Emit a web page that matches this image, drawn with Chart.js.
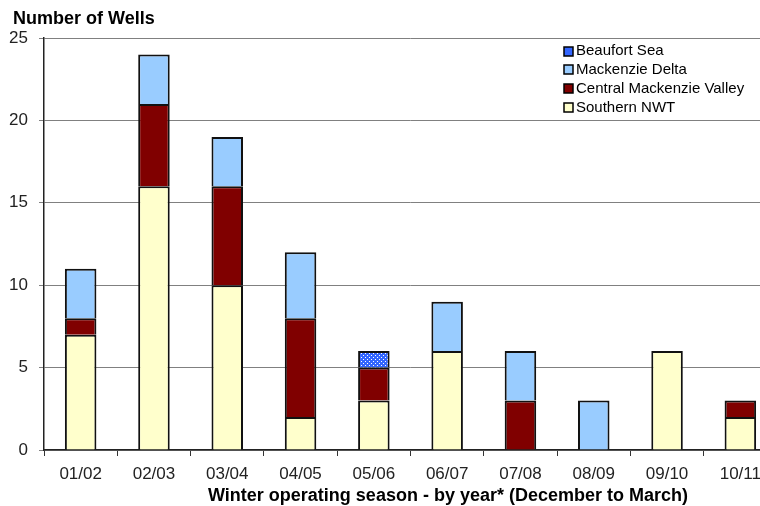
<!DOCTYPE html>
<html>
<head>
<meta charset="utf-8">
<script src="https://cdn.jsdelivr.net/npm/chart.js@4/dist/chart.umd.min.js"></script>
<style>
  html, body { margin: 0; padding: 0; background: #fff; }
  #wrap { width: 760px; height: 506px; overflow: hidden; position: relative; }
</style>
</head>
<body>
<div id="wrap"><canvas id="wellsChart" width="800" height="506"></canvas></div>
<script>
// Chart data
const seasons = ['01/02', '02/03', '03/04', '04/05', '05/06', '06/07', '07/08', '08/09', '09/10', '10/11'];
const southernNwt = [7, 16, 10, 2, 3, 6, 0, 0, 6, 2];
const centralMackenzieValley = [1, 5, 6, 6, 2, 0, 3, 0, 0, 1];
const mackenzieDelta = [3, 3, 3, 4, 0, 3, 3, 3, 0, 0];
const beaufortSea = [0, 0, 0, 0, 1, 0, 0, 0, 0, 0];
const yTicks = [0, 5, 10, 15, 20, 25];

const FONT = "'Liberation Sans', Arial, sans-serif";

// dotted blue fill for the Beaufort Sea segment
function dotPattern() {
    const c = document.createElement('canvas');
    c.width = 4;
    c.height = 4;
    const g = c.getContext('2d');
    g.fillStyle = '#3366FF';
    g.fillRect(0, 0, 4, 4);
    g.fillStyle = '#ffffff';
    g.fillRect(1, 1, 1, 1);
    g.fillRect(3, 3, 1, 1);
    return g.createPattern(c, 'repeat');
}

// zero means no segment
const seg = arr => arr.map(v => (v === 0 ? null : v));

const datasets = [
    { label: 'Southern NWT', data: seg(southernNwt), backgroundColor: '#FFFFCC', legendColor: '#FFFFCC' },
    { label: 'Central Mackenzie Valley', data: seg(centralMackenzieValley), backgroundColor: '#800000', legendColor: '#800000' },
    { label: 'Mackenzie Delta', data: seg(mackenzieDelta), backgroundColor: '#99CCFF', legendColor: '#99CCFF' },
    { label: 'Beaufort Sea', data: seg(beaufortSea), backgroundColor: dotPattern(), legendColor: '#3366FF' }
].map(d => Object.assign(d, {
    borderColor: '#111111',
    borderWidth: 2,
    borderSkipped: 'start',
    categoryPercentage: 1,
    barPercentage: 0.43
}));

// titles and the in-plot legend
const decorations = {
    id: 'decorations',
    afterDraw(chart) {
        const ctx = chart.ctx;
        ctx.save();
        ctx.fillStyle = '#000';
        ctx.textBaseline = 'alphabetic';
        ctx.textAlign = 'left';
        ctx.font = 'bold 18px ' + FONT;
        ctx.fillText('Number of Wells', 13, 24);
        ctx.textAlign = 'center';
        ctx.fillText('Winter operating season - by year* (December to March)', 448, 501);

        // legend, top item is the last stacked series
        const items = chart.data.datasets.slice().reverse();
        ctx.textAlign = 'left';
        ctx.font = '15px ' + FONT;
        ctx.textBaseline = 'middle';
        items.forEach((ds, i) => {
            const y = 51 + i * 18.8;
            ctx.fillStyle = ds.legendColor;
            ctx.fillRect(564, Math.round(y - 4.5), 9, 9);
            ctx.lineWidth = 1.5;
            ctx.strokeStyle = '#000';
            ctx.strokeRect(564, Math.round(y - 4.5), 9, 9);
            ctx.fillStyle = '#000';
            ctx.fillText(ds.label, 576, y);
        });
        ctx.restore();
    }
};

new Chart(document.getElementById('wellsChart'), {
    type: 'bar',
    data: { labels: seasons, datasets: datasets },
    options: {
        responsive: false,
        animation: false,
        devicePixelRatio: 1,
        layout: { padding: { top: 38, right: 23, left: 0, bottom: 0 } },
        plugins: {
            legend: { display: false },
            title: { display: false },
            tooltip: { enabled: false }
        },
        scales: {
            x: {
                stacked: true,
                offset: true,
                afterFit(scale) { scale.height = 56; },
                grid: {
                    offset: true,
                    drawOnChartArea: false,
                    drawTicks: true,
                    tickLength: 6,
                    color: '#333'
                },
                border: { color: '#222', width: 1.5 },
                ticks: {
                    padding: 8,
                    color: '#222',
                    font: { family: FONT, size: 17 }
                }
            },
            y: {
                stacked: true,
                min: yTicks[0],
                max: yTicks[yTicks.length - 1],
                afterFit(scale) { scale.width = 44; },
                afterBuildTicks(scale) { scale.ticks = yTicks.map(v => ({ value: v })); },
                grid: {
                    color: '#808080',
                    lineWidth: 1,
                    drawTicks: true,
                    tickLength: 5
                },
                border: { color: '#222', width: 1.5 },
                ticks: {
                    padding: 11,
                    color: '#222',
                    font: { family: FONT, size: 17 }
                }
            }
        }
    },
    plugins: [decorations]
});
</script>
</body>
</html>
